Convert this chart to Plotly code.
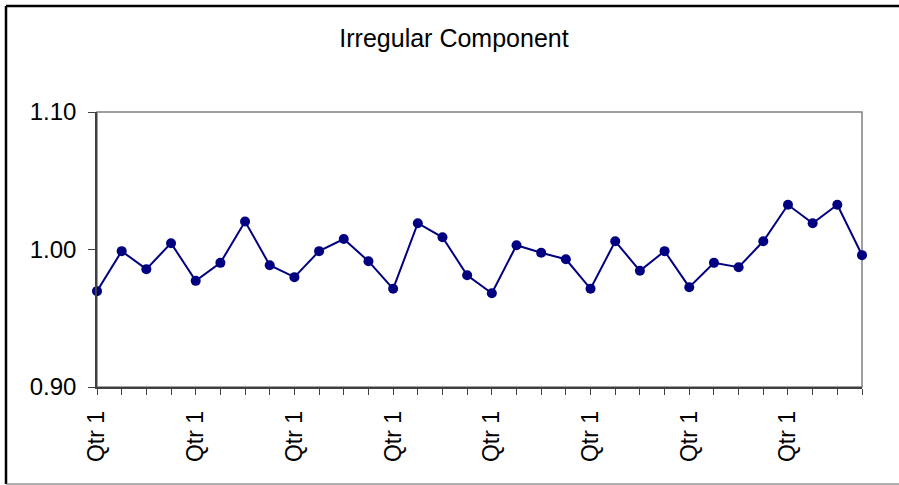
import plotly.graph_objects as go

quarter_labels = ["Qtr 1", "", "", "", "Qtr 1", "", "", "", "Qtr 1", "", "", "",
                  "Qtr 1", "", "", "", "Qtr 1", "", "", "", "Qtr 1", "", "", "",
                  "Qtr 1", "", "", "", "Qtr 1", "", "", ""]
irregular = [0.9697, 0.9988, 0.9857, 1.0046, 0.9772, 0.9903, 1.0204, 0.9886,
             0.9799, 0.9988, 1.0076, 0.9915, 0.9714, 1.0191, 1.0089, 0.9813,
             0.9682, 1.0031, 0.9976, 0.9929, 0.9714, 1.0060, 0.9845, 0.9988,
             0.9726, 0.9903, 0.9871, 1.0060, 1.0325, 1.0191, 1.0325, 0.9959]
y_ticks = [0.90, 1.00, 1.10]

x_idx = list(range(len(irregular)))

W, H = 899, 485
L, R, T, B = 97, 37, 112, 98
pw, ph = W - L - R, H - T - B

def px_x(x):
    return (x - L) / pw

def px_y(y):
    return (H - B - y) / ph

fig = go.Figure()
fig.add_trace(go.Scatter(
    x=x_idx, y=irregular, mode="lines+markers",
    line=dict(color="#000080", width=2),
    marker=dict(color="#000080", size=10),
    cliponaxis=False, showlegend=False,
))

font = "Liberation Sans, Arial, sans-serif"
fig.update_layout(
    width=W, height=H,
    margin=dict(l=L, r=R, t=T, b=B),
    paper_bgcolor="white", plot_bgcolor="white",
    title=dict(text="Irregular Component", x=(454) / W, xanchor="center",
               y=1 - 38 / H, yanchor="middle",
               font=dict(family=font, size=25, color="black")),
    xaxis=dict(range=[0, len(irregular) - 1], tickvals=x_idx, ticktext=quarter_labels,
               tickangle=-90, ticks="outside", ticklen=6, tickcolor="#404040",
               showline=True, linecolor="#404040", linewidth=1.5,
               showgrid=False, zeroline=False, ticklabelstandoff=7,
               tickfont=dict(family=font, size=23, color="black")),
    yaxis=dict(range=[0.90, 1.10], tickvals=y_ticks, tickformat=".2f",
               ticks="outside", ticklen=7, tickcolor="#404040",
               showline=True, linecolor="#404040", linewidth=1.5,
               showgrid=False, zeroline=False, ticklabelstandoff=7,
               tickfont=dict(family=font, size=24, color="black")),
    shapes=[
        dict(type="rect", xref="paper", yref="paper", x0=0, x1=1, y0=0, y1=1,
             line=dict(color="#808080", width=1.5), layer="below"),
        dict(type="line", xref="paper", yref="paper", x0=px_x(6), x1=px_x(905),
             y0=px_y(6), y1=px_y(6), line=dict(color="black", width=2.5)),
        dict(type="line", xref="paper", yref="paper", x0=px_x(6), x1=px_x(6),
             y0=px_y(6), y1=px_y(484), line=dict(color="black", width=2.5)),
        dict(type="line", xref="paper", yref="paper", x0=px_x(6), x1=px_x(905),
             y0=px_y(484), y1=px_y(484), line=dict(color="#606060", width=1)),
    ],
)

fig.write_html("out.html")
